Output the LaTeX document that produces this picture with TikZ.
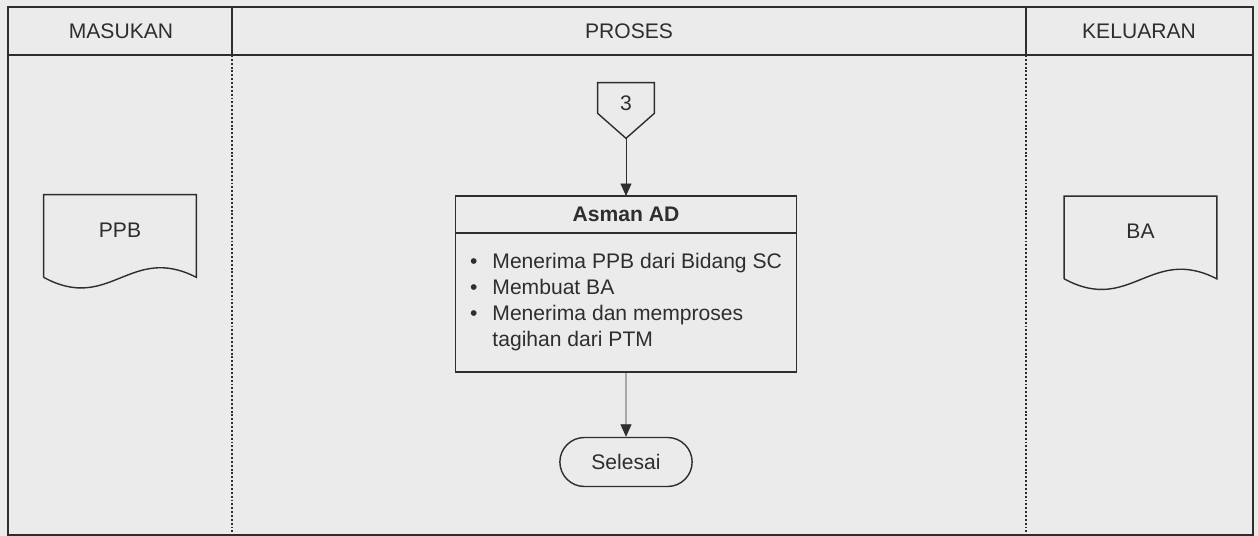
\documentclass[tikz,border=0pt]{standalone}
\usepackage{fontspec}
\setmainfont{Liberation Sans}
\usetikzlibrary{positioning,arrows.meta,shapes.misc}
\definecolor{Ink}{HTML}{2E2E2E}
\definecolor{Paper}{HTML}{EBEBEB}

\begin{document}
\begin{tikzpicture}[
  x=0.02cm, y=-0.02cm,
  font=\fontsize{12}{14.8}\selectfont,
  every node/.style={text=Ink},
  ln/.style={draw=Ink,line width=0.8pt},
  lane/.style={draw=Ink,line width=1.3pt,dash pattern=on 1.1pt off 1.1pt},
  ar/.style={draw=Ink,line width=0.5pt,-{Triangle[length=2.5mm,width=2.2mm]}},
  doc/.style={minimum width=3.04cm,minimum height=1.64cm,inner sep=0pt,text depth=2.4mm},
  offpage/.style={minimum width=1.12cm,minimum height=0.6cm,inner sep=0pt,text height=5mm,text depth=0pt},
  head/.style={ln,minimum width=6.82cm,minimum height=0.74cm,inner sep=0pt,outer sep=0pt,font=\fontsize{12}{14.8}\selectfont\bfseries},
  body/.style={ln,minimum width=6.82cm,minimum height=2.78cm,inner sep=0pt,outer sep=0pt},
  term/.style={ln,rounded rectangle,minimum width=2.88cm,minimum height=0.98cm},
]
% coordinates are pixels of the page, y running downwards
\fill[Paper] (0,0) rectangle (1258,536);
\useasboundingbox (0,0) rectangle (1258,536);

% frame with three lanes
\draw[ln] (8,7) rectangle (1253,535);
\draw[ln] (8,55) -- (1253,55);
\draw[ln] (232,7) -- (232,55);
\draw[ln] (1026,7) -- (1026,55);
\draw[lane] (232,55) -- (232,535);
\draw[lane] (1026,55) -- (1026,535);

\node (masukan)  at (121,31)  {MASUKAN};
\node (proses)   at (629,31)  {PROSES};
\node (keluaran) at (1139,31) {KELUARAN};

% input and output documents
\node[doc] (ppb) at (120,236)    {PPB};
\node[doc] (ba)  at (1140.5,237.5) {BA};
\foreach \d in {ppb,ba}
  \draw[ln] (\d.south west) |- (\d.north east) -- (\d.south east)
    .. controls +(-66,-34) and +(66,36) .. (\d.south west);

% process lane
\node[offpage] (c3) at (626,98) {3};
\draw[ln] (c3.south west) |- (c3.north east) -- (c3.south east)
  -- ([yshift=-0.5cm]c3.south) coordinate (tip) -- cycle;
\node[head] (asman) at (626,214.5) {Asman AD};
\node[body,below=0pt of asman] (tugas)
  {\begin{tabular}{@{}l@{\hspace{0.3cm}}l@{}}
   \textbullet & Menerima PPB dari Bidang SC\\
   \textbullet & Membuat BA\\
   \textbullet & Menerima dan memproses\\
               & tagihan dari PTM
   \end{tabular}};
\node[term] (selesai) at (626,462) {Selesai};
\draw[ar] (tip) -- (asman.north);
\draw[ar] (tugas) -- (selesai);
\end{tikzpicture}
\end{document}
